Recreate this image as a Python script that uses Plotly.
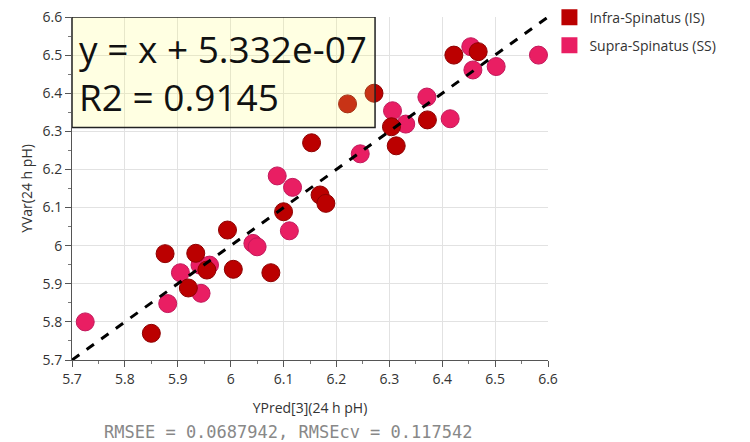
import plotly.graph_objects as go

# Infra-Spinatus (IS)
is_x = [5.850, 5.876, 5.920, 5.934, 5.955, 5.994, 6.005, 6.076, 6.100, 6.153,
        6.169, 6.180, 6.221, 6.271, 6.304, 6.313, 6.372, 6.422, 6.468]
is_y = [5.770, 5.979, 5.889, 5.980, 5.936, 6.041, 5.938, 5.929, 6.089, 6.270,
        6.133, 6.111, 6.372, 6.400, 6.312, 6.262, 6.330, 6.500, 6.509]

# Supra-Spinatus (SS)
ss_x = [5.725, 5.881, 5.905, 5.944, 5.942, 5.960, 6.042, 6.050, 6.088, 6.111,
        6.117, 6.245, 6.306, 6.331, 6.371, 6.415, 6.454, 6.458, 6.502, 6.582]
ss_y = [5.800, 5.848, 5.929, 5.875, 5.949, 5.949, 6.006, 5.997, 6.183, 6.039,
        6.153, 6.241, 6.354, 6.319, 6.390, 6.333, 6.522, 6.461, 6.470, 6.500]

ticks = [5.7, 5.8, 5.9, 6.0, 6.1, 6.2, 6.3, 6.4, 6.5, 6.6]
tick_labels = ["5.7", "5.8", "5.9", "6", "6.1", "6.2", "6.3", "6.4", "6.5", "6.6"]
fit_x = [5.7, 6.6]
fit_y = [5.7, 6.6]

IS_COLOR = "#bb0000"
SS_COLOR = "#e91e63"

fig = go.Figure()
fig.add_trace(go.Scatter(x=ss_x, y=ss_y, mode="markers", showlegend=False,
                         marker=dict(size=18, color=SS_COLOR, line=dict(color="#c2185b", width=1))))
fig.add_trace(go.Scatter(x=is_x, y=is_y, mode="markers", showlegend=False,
                         marker=dict(size=18, color=IS_COLOR, line=dict(color="#8e0000", width=1))))
fig.add_trace(go.Scatter(x=fit_x, y=fit_y, mode="lines", showlegend=False,
                         line=dict(color="black", width=3, dash="dash")))
# legend entries
fig.add_trace(go.Scatter(x=[None], y=[None], mode="markers", name="Infra-Spinatus (IS)",
                         legendgroup="is",
                         marker=dict(symbol="square", size=16, color=IS_COLOR)))
fig.add_trace(go.Scatter(x=[None], y=[None], mode="markers", name="Supra-Spinatus (SS)",
                         legendgroup="ss",
                         marker=dict(symbol="square", size=16, color=SS_COLOR)))

axis_common = dict(
    range=[5.7, 6.6], tickvals=ticks, ticktext=tick_labels,
    showgrid=True, gridcolor="#e2e2e2", gridwidth=1,
    showline=True, linecolor="#555555", linewidth=1,
    ticks="outside", ticklen=6, tickcolor="#555555",
    minor=dict(ticks="outside", ticklen=3, tickcolor="#777777", dtick=0.05, showgrid=False),
    tickfont=dict(family="Open Sans", size=14, color="#333333"),
    zeroline=False, automargin=False,
)

fig.update_layout(
    width=750, height=442,
    margin=dict(l=72, r=202, t=17, b=82, autoexpand=False),
    paper_bgcolor="white", plot_bgcolor="white",
    font=dict(family="Open Sans", color="#333333"),
    xaxis=dict(**axis_common, title=dict(text="YPred[3](24 h pH)", font=dict(size=14), standoff=16)),
    yaxis=dict(**axis_common, title=dict(text="YVar(24 h pH)", font=dict(size=14), standoff=6)),
    legend=dict(x=1.003, y=1.045, xanchor="left", yanchor="top",
                font=dict(family="Open Sans", size=14, color="#333333"),
                itemsizing="trace", tracegroupgap=7, bgcolor="rgba(0,0,0,0)"),
    shapes=[dict(type="rect", xref="x", yref="y", x0=5.7, x1=6.273, y0=6.31, y1=6.6,
                 fillcolor="rgba(255,255,110,0.2)", line=dict(color="#222222", width=1.5),
                 layer="above")],
    annotations=[
        dict(xref="x", yref="y", x=5.71, y=6.455, xanchor="left", yanchor="middle",
             text="y = x + 5.332e-07<br>R2 = 0.9145", showarrow=False, align="left",
             font=dict(family="Open Sans", size=37, color="#111111")),
        dict(xref="paper", yref="paper", x=0.454, y=-0.21, xanchor="center", yanchor="middle",
             text="RMSEE = 0.0687942, RMSEcv = 0.117542", showarrow=False,
             font=dict(family="DejaVu Sans Mono", size=17, color="#888888")),
    ],
)

fig.write_html("out.html", config={"displayModeBar": False},
               post_script="document.body.style.margin='0';")
